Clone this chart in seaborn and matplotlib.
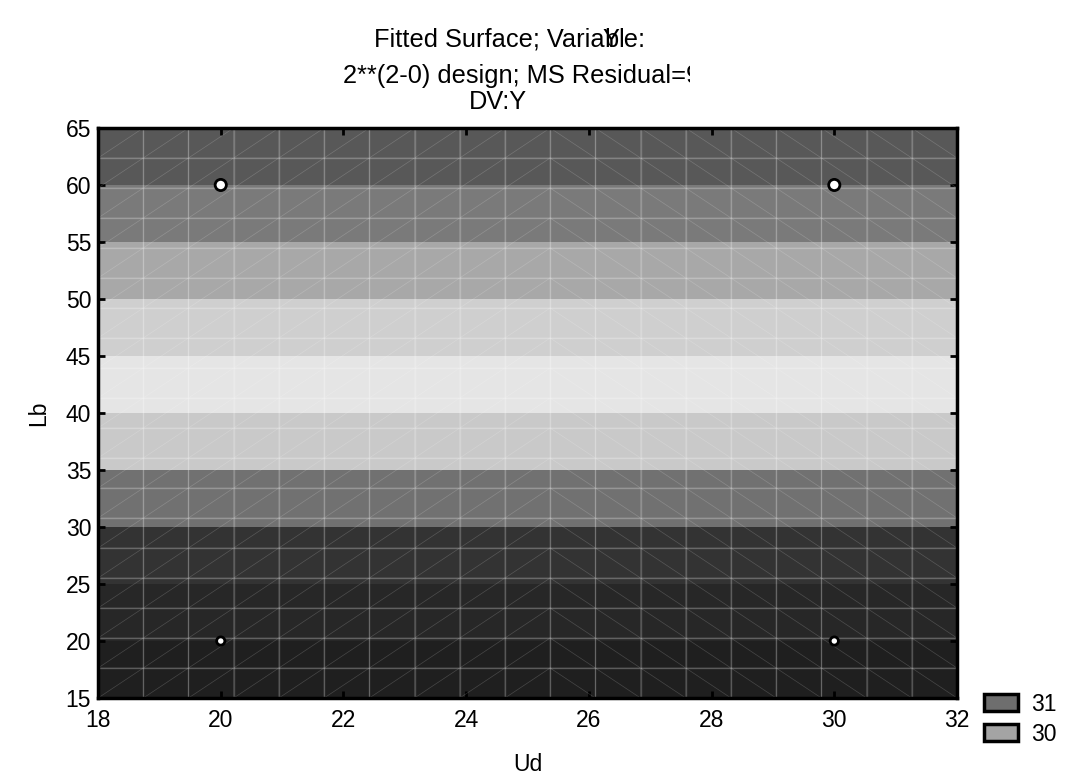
import numpy as np
import pandas as pd
import matplotlib
matplotlib.use("Agg")
import matplotlib.pyplot as plt
import matplotlib.tri as mtri
from matplotlib.patches import Patch, Rectangle
import seaborn as sns

# du lieu
band_edges = [15, 20, 25, 30, 35, 40, 45, 50, 55, 60, 65]
band_colors = ["#1f1f1f", "#272727", "#333333", "#717171", "#c9c9c9",
               "#e5e5e5", "#cfcfcf", "#a8a8a8", "#7a7a7a", "#585858"]
design_ud = [20, 20, 30, 30]
design_lb = [20, 60, 20, 60]
design_size = [45, 75, 45, 75]
legend_labels = ["31", "30"]
legend_colors = ["#6e6e6e", "#a4a4a4"]

sns.set_style("white")
plt.rcParams["font.family"] = ["Liberation Sans", "DejaVu Sans"]
plt.rcParams["text.color"] = "black"
plt.rcParams["axes.labelcolor"] = "black"
plt.rcParams["xtick.color"] = "black"
plt.rcParams["ytick.color"] = "black"

W, H = 1081, 778
fig = plt.figure(figsize=(W / 100, H / 100), dpi=100)
ax = fig.add_axes([0.0907, 0.1028, 0.7946, 0.7327])

# cac dai mau cua be mat
for i in range(len(band_colors)):
    ax.axhspan(band_edges[i], band_edges[i + 1], color=band_colors[i], lw=0, zorder=0)

# luoi tam giac 20x20
n = 20
gx = np.linspace(18, 32, n)
gy = np.linspace(15, 65, n)
X, Y = np.meshgrid(gx, gy)
tris = []
for j in range(n - 1):
    for i in range(n - 1):
        a = j * n + i
        b = a + 1
        c = a + n
        d = c + 1
        if i < 10:
            tris += [[a, b, d], [a, d, c]]
        else:
            tris += [[a, b, c], [b, d, c]]
tri = mtri.Triangulation(X.ravel(), Y.ravel(), tris)
ax.triplot(tri, color="white", alpha=0.18, lw=0.5, zorder=1)
ax.vlines(gx, 15, 65, color="white", alpha=0.22, lw=1.0, zorder=1)
ax.hlines(gy, 18, 32, color="white", alpha=0.22, lw=1.0, zorder=1)

df = pd.DataFrame({"Ud": design_ud, "Lb": design_lb, "s": design_size})
sns.scatterplot(data=df, x="Ud", y="Lb", size="s", sizes=(35, 65), color="white",
                edgecolor="black", linewidth=2, legend=False, ax=ax, zorder=3, clip_on=False)

ax.set_xlim(18, 32)
ax.set_ylim(15, 65)
ax.set_xticks(range(18, 33, 2))
ax.set_yticks(range(15, 66, 5))
ax.tick_params(direction="in", length=5, width=2, labelsize=16.5, top=True, right=True,
               left=True, bottom=True)
ax.tick_params(axis="x", pad=8)
ax.tick_params(axis="y", pad=5)
for s in ax.spines.values():
    s.set_linewidth(2.5)
    s.set_color("black")
ax.set_xlabel("Ud", fontsize=16.5, labelpad=15)
ax.set_ylabel("Lb", fontsize=16.5, labelpad=11)

# tieu de
fs = 18.3
r = fig.canvas.get_renderer()
t1 = fig.text(374 / W, 1 - 47 / H, "Fitted Surface; Varia", fontsize=fs, ha="left", va="baseline")
e1 = t1.get_window_extent(r)
tb = fig.text(e1.x1 / W, 1 - 47 / H, "b", fontsize=fs, ha="left", va="baseline")
eb = tb.get_window_extent(r)
fig.text((e1.x1 - 2) / W, 1 - 47 / H, "Y", fontsize=fs, ha="left", va="baseline")
fig.text(eb.x1 / W, 1 - 47 / H, "le:", fontsize=fs, ha="left", va="baseline")
fig.text(343 / W, 1 - 83 / H, "2**(2-0) design; MS Residual=9", fontsize=fs, ha="left", va="baseline")
fig.add_artist(Rectangle((690 / W, 1 - 92 / H), 40 / W, 34 / H, transform=fig.transFigure,
                         facecolor="white", edgecolor="none", zorder=10))
fig.text(498 / W, 1 - 109 / H, "DV:Y", fontsize=fs, ha="center", va="baseline")

handles = [Patch(facecolor=c, edgecolor="black", linewidth=2.5) for c in legend_colors]
fig.legend(handles, legend_labels, loc="lower left", bbox_to_anchor=(0.9, 0.027),
           frameon=False, fontsize=16.5, handlelength=1.45, handleheight=0.8,
           handletextpad=0.6, labelspacing=0.3, borderpad=0)

fig.savefig("out.png", dpi=100, facecolor="white")
